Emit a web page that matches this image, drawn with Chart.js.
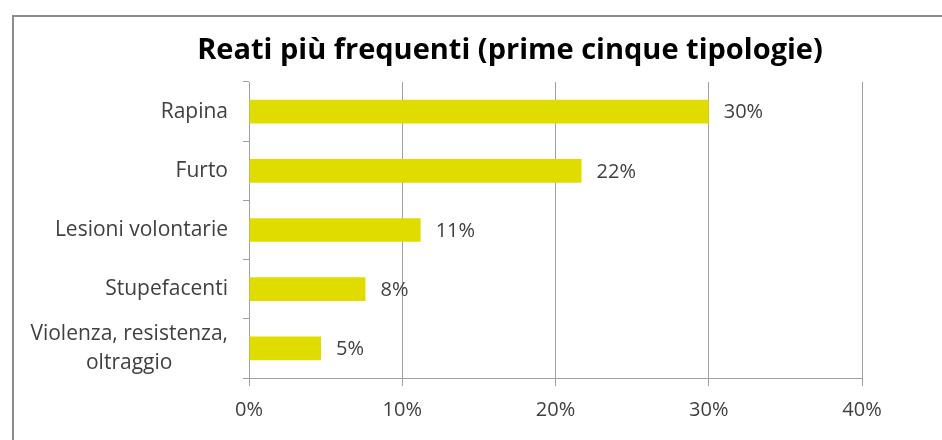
<!DOCTYPE html>
<html>
<head>
<meta charset="utf-8">
<script src="https://cdn.jsdelivr.net/npm/chart.js@4/dist/chart.umd.min.js"></script>
<style>
html,body{margin:0;padding:0;background:#fff;}
#wrap{width:942px;height:440px;position:relative;}
</style>
</head>
<body>
<div id="wrap"><canvas id="c" width="942" height="440"></canvas></div>
<script>
const titleText = 'Reati più frequenti (prime cinque tipologie)';
const categories = ['Rapina', 'Furto', 'Lesioni volontarie', 'Stupefacenti', ['Violenza, resistenza,', 'oltraggio']];
const values = [30, 21.7, 11.2, 7.6, 4.7];
const xTicks = [0, 10, 20, 30, 40];

const FONT = '"Open Sans", Lato, sans-serif';
const TEXT = '#404040';
const GRID = '#a0a0a0';

const framePlugin = {
  id: 'frame',
  beforeDraw(chart) {
    const ctx = chart.ctx;
    ctx.save();
    ctx.fillStyle = '#fff';
    ctx.fillRect(0, 0, chart.width, chart.height);
    ctx.strokeStyle = '#8c8c8c';
    ctx.lineWidth = 2;
    ctx.strokeRect(13, 16, 1000, 500);
    ctx.restore();
  },
  afterDraw(chart) {
    const ctx = chart.ctx;
    ctx.save();
    ctx.fillStyle = '#000';
    ctx.font = 'bold 29px ' + FONT;
    ctx.textAlign = 'center';
    ctx.textBaseline = 'alphabetic';
    ctx.fillText(titleText, 510, 59);

    // category labels: block right-aligned, lines centred within block
    const ys = chart.scales.y;
    ctx.font = '21px ' + FONT;
    ctx.fillStyle = TEXT;
    ctx.textBaseline = 'middle';
    ctx.textAlign = 'center';
    const rightX = ys.right - 6 - 15;
    const lh = 29;
    categories.forEach((lab, i) => {
      const lines = Array.isArray(lab) ? lab : [lab];
      const w = Math.max(...lines.map(l => ctx.measureText(l).width));
      const cx = rightX - w / 2;
      const cy = ys.getPixelForTick(i);
      lines.forEach((l, j) => {
        ctx.fillText(l, cx, cy + (j - (lines.length - 1) / 2) * lh);
      });
    });

    // data labels
    const meta = chart.getDatasetMeta(0);
    ctx.font = '20px ' + FONT;
    ctx.textAlign = 'left';
    meta.data.forEach((bar, i) => {
      ctx.fillText(Math.round(values[i]) + '%', bar.x + 15, bar.y + 1);
    });
    ctx.restore();
  }
};

new Chart(document.getElementById('c'), {
  type: 'bar',
  data: {
    labels: categories,
    datasets: [{
      data: values,
      backgroundColor: 'rgb(224,220,0)',
      borderWidth: 0,
      categoryPercentage: 0.8,
      barPercentage: 0.5
    }]
  },
  options: {
    indexAxis: 'y',
    responsive: false,
    animation: false,
    devicePixelRatio: 1,
    layout: { padding: { left: 12, right: 80, top: 82, bottom: 0 } },
    plugins: { legend: { display: false }, title: { display: false }, tooltip: { enabled: false } },
    scales: {
      x: {
        min: 0, max: 40,
        afterFit(scale) { scale.height = 62; },
        afterBuildTicks(scale) { scale.ticks = xTicks.map(v => ({ value: v })); },
        grid: { color: GRID, lineWidth: 1, tickLength: 8, drawTicks: true },
        border: { color: GRID, width: 1 },
        ticks: {
          color: TEXT, font: { family: FONT, size: 20 }, padding: 12,
          autoSkip: false, maxRotation: 0,
          callback: v => v + '%'
        }
      },
      y: {
        afterFit(scale) { scale.width = 237; },
        grid: { drawOnChartArea: false, color: GRID, tickLength: 6 },
        border: { color: GRID, width: 1 },
        ticks: { display: false, autoSkip: false }
      }
    }
  },
  plugins: [framePlugin]
});
</script>
</body>
</html>
